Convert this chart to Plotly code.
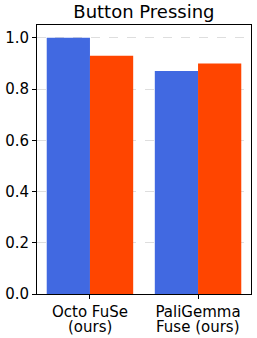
import plotly.graph_objects as go

categories = ["Octo FuSe\n(ours)", "PaliGemma\nFuse (ours)"]
series_a = [1.0, 0.87]
series_b = [0.93, 0.90]
y_ticks = [0.0, 0.2, 0.4, 0.6, 0.8, 1.0]
y_tick_labels = ["0.0", "0.2", "0.4", "0.6", "0.8", "1.0"]

x = list(range(len(categories)))
line1 = [c.split("\n")[0] for c in categories]
line2 = [c.split("\n")[1] for c in categories]

fig = go.Figure()
fig.add_trace(go.Bar(x=[i - 0.2 for i in x], y=series_a, width=0.4,
                     marker=dict(color="#4169E1", line=dict(width=0))))
fig.add_trace(go.Bar(x=[i + 0.2 for i in x], y=series_b, width=0.4,
                     marker=dict(color="#FF4500", line=dict(width=0))))

for i, t in zip(x, line2):
    fig.add_annotation(x=i, y=0, xref="x", yref="paper", text=t, showarrow=False,
                       xanchor="center", yanchor="top", yshift=-22,
                       font=dict(family="DejaVu Sans", size=15, color="black"))

fig.update_layout(
    width=257, height=338,
    margin=dict(l=37, r=6, t=25, b=44, autoexpand=False),
    plot_bgcolor="white", paper_bgcolor="white",
    showlegend=False,
    font=dict(family="DejaVu Sans", size=15, color="black"),
    title=dict(text="Button Pressing", x=0.56, xanchor="center", y=0.985, yanchor="top",
               font=dict(size=18, color="black"), automargin=False),
    barmode="overlay",
)
fig.update_xaxes(range=[-0.49, 1.49], tickvals=x, ticktext=line1,
                 showline=True, linecolor="black", linewidth=1, mirror=True,
                 ticks="outside", ticklen=4, tickcolor="black", showgrid=False,
                 automargin=False)
fig.update_yaxes(range=[0, 1.05], tickvals=y_ticks, ticktext=y_tick_labels,
                 showline=True, linecolor="black", linewidth=1, mirror=True,
                 ticks="outside", ticklen=4, tickcolor="black",
                 showgrid=True, gridcolor="rgba(200,200,200,0.6)", griddash="dash",
                 gridwidth=1, zeroline=False, automargin=False)
fig.write_html("out.html", config={"displayModeBar": False},
               post_script="document.body.style.margin='0';document.body.style.overflow='hidden';")
